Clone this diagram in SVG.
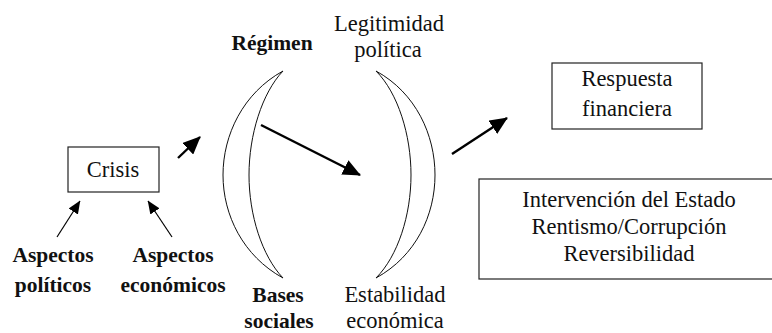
<svg xmlns="http://www.w3.org/2000/svg" width="772" height="333" viewBox="0 0 772 333">
<style>
text{font-family:'Liberation Serif','Times New Roman',serif;font-size:22.5px;fill:#111;text-anchor:middle}
.b{font-weight:bold;font-size:21.5px}
.box{fill:#fff;stroke:#222;stroke-width:1.2}
.arc{fill:none;stroke:#111;stroke-width:1}
.big{stroke:#000;stroke-width:2.4;fill:none;marker-end:url(#hb)}
.sm{stroke:#000;stroke-width:1.2;fill:none;marker-end:url(#hs)}
</style>
<defs>
<marker id="hb" markerUnits="userSpaceOnUse" viewBox="0 0 18 16" markerWidth="18" markerHeight="16" refX="17" refY="8" orient="auto"><path d="M0,0 L18,8 L0,16 z" fill="#000"/></marker>
<marker id="hs" markerUnits="userSpaceOnUse" viewBox="0 0 13 11" markerWidth="13" markerHeight="11" refX="12.5" refY="5.5" orient="auto"><path d="M0,0 L13,5.5 L0,11 z" fill="#000"/></marker>
</defs>
<g id="crisis"><rect class="box" x="68" y="147" width="91" height="45"/><text x="113" y="177">Crisis</text></g>
<g id="aspectos-politicos"><text class="b" x="53" y="262">Aspectos</text><text class="b" x="53" y="292">políticos</text></g>
<g id="aspectos-economicos"><text class="b" x="173" y="262">Aspectos</text><text class="b" x="173" y="292">económicos</text></g>
<g id="regimen"><text class="b" x="272" y="50">Régimen</text></g>
<g id="bases-sociales"><text class="b" x="278" y="302">Bases</text><text class="b" x="279" y="328">sociales</text></g>
<g id="legitimidad"><text x="389" y="31">Legitimidad</text><text x="388" y="57">política</text></g>
<g id="estabilidad"><text x="395" y="302">Estabilidad</text><text x="395" y="328">económica</text></g>
<g id="bracket-left"><path class="arc" d="M283,71 C243,93 223,135 223,175 S243,256 283,278"/><path class="arc" d="M283,71 C262,93 249,135 249,175 S262,256 283,278"/></g>
<g id="bracket-right"><path class="arc" d="M376,71 C416,93 435,135 435,175 S416,256 376,278"/><path class="arc" d="M376,71 C398,93 411,135 411,175 S398,256 376,278"/></g>
<g id="respuesta"><rect class="box" x="552" y="63" width="150" height="66"/><text x="627" y="86">Respuesta</text><text x="627" y="116">financiera</text></g>
<g id="factores"><rect class="box" x="479" y="179" width="310" height="100"/><text x="629" y="207">Intervención del Estado</text><text x="629" y="234">Rentismo/Corrupción</text><text x="629" y="261">Reversibilidad</text></g>
<g id="connectors">
<line class="sm" x1="57" y1="237" x2="80" y2="201"/>
<line class="sm" x1="172" y1="237" x2="148" y2="201"/>
<line class="big" x1="178" y1="158" x2="200" y2="137"/>
<line class="big" x1="261" y1="125" x2="360" y2="175"/>
<line class="big" x1="452" y1="154" x2="507" y2="118"/>
</g>
</svg>
